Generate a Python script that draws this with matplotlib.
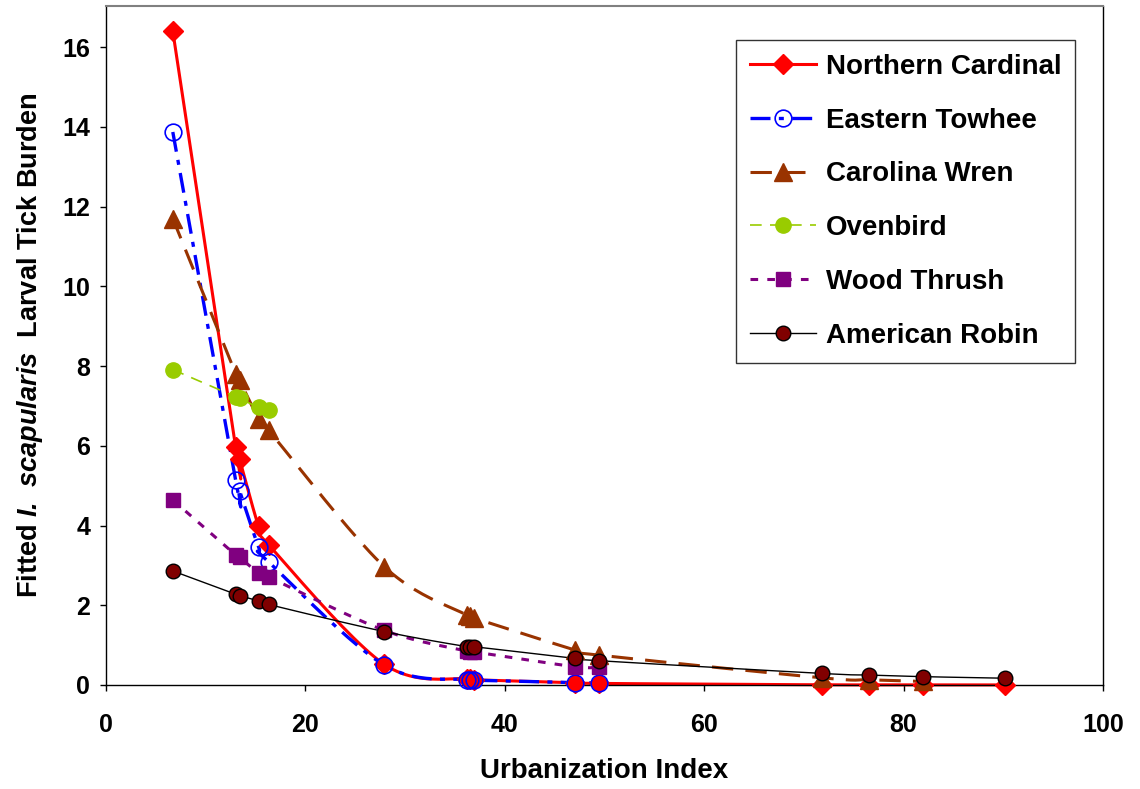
import numpy as np
import matplotlib
matplotlib.use("Agg")
import matplotlib.pyplot as plt

plt.rcParams["font.family"] = ["Liberation Sans", "DejaVu Sans"]
plt.rcParams["font.weight"] = "bold"
plt.rcParams["mathtext.fontset"] = "custom"
plt.rcParams["mathtext.rm"] = "Liberation Sans:weight=bold"
plt.rcParams["mathtext.bfit"] = "Liberation Sans:style=italic:weight=bold"

# ---------------------------------------------------------------------
# Data
# ---------------------------------------------------------------------
URBAN = [6.7, 13.0, 13.4, 15.3, 16.3, 27.9, 36.2, 36.5, 36.9, 47.0, 49.4,
         71.8, 76.5, 81.9, 90.2]

cardinal = [16.4, 5.97, 5.66, 3.98, 3.52, 0.52, 0.15, 0.14, 0.13, 0.06, 0.04,
            0.005, 0.004, 0.003, 0.002]
towhee = [13.87, 5.14, 4.87, 3.47, 3.09, 0.50, 0.13, 0.12, 0.12, 0.06, 0.04]
wren = [11.70, 7.81, 7.64, 6.68, 6.39, 2.97, 1.75, 1.72, 1.68, 0.88, 0.75,
        0.18, 0.13, 0.09]
ovenbird = [7.91, 7.23, 7.19, 6.96, 6.89]
thrush = [4.64, 3.26, 3.20, 2.81, 2.71, 1.37, 0.85, 0.84, 0.83, 0.46, 0.46]
robin = [2.86, 2.28, 2.24, 2.11, 2.02, 1.34, 0.96, 0.96, 0.96, 0.67, 0.61,
         0.29, 0.25, 0.21, 0.17]

SERIES = [
    ("Northern Cardinal", cardinal,
     dict(color="#FF0000", lw=2.2, ls="-", marker="D", ms=10, mfc="#FF0000", mec="#FF0000")),
    ("Eastern Towhee", towhee,
     dict(color="#0000FF", lw=2.4, dashes=(6, 2.5, 1.5, 2.5), marker="o", ms=12,
          mfc="none", mec="#0000FF", mew=1.2)),
    ("Carolina Wren", wren,
     dict(color="#993300", lw=2.2, dashes=(7, 4), marker="^", ms=12.5, mfc="#993300", mec="#993300")),
    ("Ovenbird", ovenbird,
     dict(color="#99CC00", lw=1.2, dashes=(7, 5), marker="o", ms=11, mfc="#99CC00", mec="#99CC00")),
    ("Wood Thrush", thrush,
     dict(color="#800080", lw=2.2, dashes=(2.5, 3), marker="s", ms=10.5, mfc="#800080", mec="#800080")),
    ("American Robin", robin,
     dict(color="black", lw=1.0, ls="-", marker="o", ms=10.5, mfc="#800000", mec="black", mew=1.0)),
]

SX, SY = 10.0, 40.0  # approx px per data unit, so smoothing acts in screen space


def smooth(xs, ys, n=24):
    """Excel-style smoothed line: Bezier segments with Catmull-Rom handles."""
    P = np.column_stack([np.asarray(xs) * SX, np.asarray(ys) * SY])
    if len(P) < 3:
        return np.asarray(xs), np.asarray(ys)
    Q = np.vstack([P[0], P, P[-1]])
    t = np.linspace(0, 1, n)[:, None]
    out = []
    for i in range(1, len(Q) - 2):
        b0 = Q[i]
        b3 = Q[i + 1]
        b1 = b0 + (Q[i + 1] - Q[i - 1]) / 6
        b2 = b3 - (Q[i + 2] - Q[i]) / 6
        seg = ((1 - t) ** 3) * b0 + 3 * ((1 - t) ** 2) * t * b1 \
            + 3 * (1 - t) * t ** 2 * b2 + t ** 3 * b3
        out.append(seg if i == 1 else seg[1:])
    out = np.vstack(out)
    return out[:, 0] / SX, out[:, 1] / SY


fig = plt.figure(figsize=(11.4, 7.89), dpi=100)
ax = fig.add_axes([106 / 1140, 104 / 789, 997 / 1140, 679 / 789])

handles = []
for label, ys, style in SERIES:
    xs = URBAN[:len(ys)]
    sx, sy = smooth(xs, ys)
    line_kw = {k: v for k, v in style.items() if k in ("color", "lw", "ls", "dashes")}
    mark_kw = {k: v for k, v in style.items() if k in ("marker", "ms", "mfc", "mec", "mew")}
    ax.plot(sx, sy, clip_on=False, **line_kw)
    ax.plot(xs, ys, ls="none", clip_on=False, zorder=3, **mark_kw)
    h, = ax.plot([], [], label=label, **line_kw, **mark_kw)
    handles.append(h)

ax.set_xlim(0, 100)
ax.set_ylim(0, 17.03)
ax.set_xticks(np.arange(0, 101, 20))
ax.set_yticks(np.arange(0, 17, 2))
ax.tick_params(axis="both", direction="out", length=4.5, width=1, labelsize=18)
ax.tick_params(axis="x", pad=16)
ax.tick_params(axis="y", pad=7)
for lab in ax.get_xticklabels() + ax.get_yticklabels():
    lab.set_fontweight("bold")

for side in ("left", "bottom", "right"):
    ax.spines[side].set_color("black")
    ax.spines[side].set_linewidth(1)
ax.spines["top"].set_color("#808080")
ax.spines["top"].set_linewidth(1.5)

ax.set_xlabel("Urbanization Index", fontsize=20, fontweight="bold", labelpad=15)
ax.set_ylabel(r"Fitted $\mathbfit{I.\ scapularis}$  Larval Tick Burden",
              fontsize=19.5, fontweight="bold", labelpad=12)

leg = ax.legend(handles=handles, loc="upper right", bbox_to_anchor=(0.972, 0.950),
                borderaxespad=0, frameon=True, fancybox=False, handlelength=2.35,
                handletextpad=0.36, labelspacing=1.0, borderpad=0.5,
                prop={"weight": "bold", "size": 20})
leg.get_frame().set_edgecolor("black")
leg.get_frame().set_linewidth(1)

fig.savefig("out.png", dpi=100)
